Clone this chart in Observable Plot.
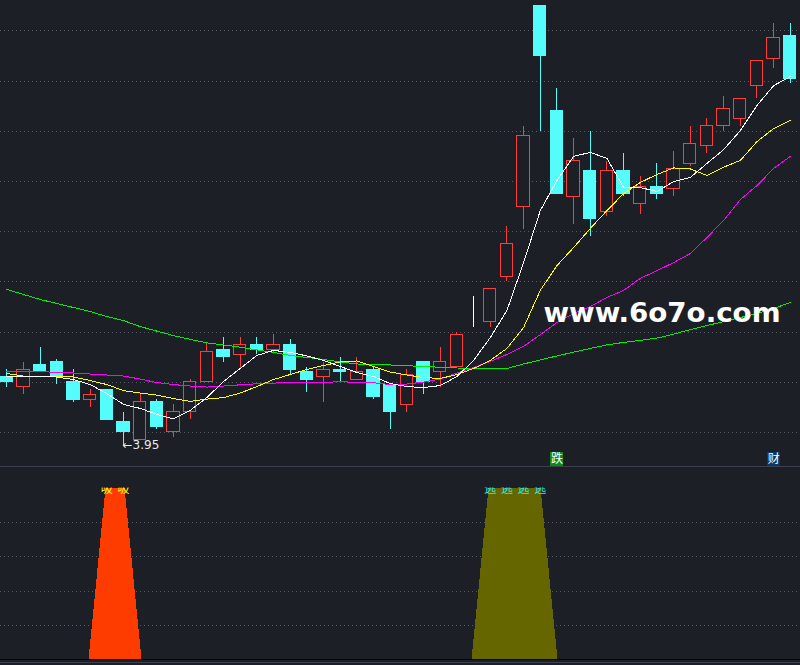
<!DOCTYPE html>
<html>
<head>
<meta charset="utf-8">
<script src="https://cdn.jsdelivr.net/npm/d3@7"></script>
<script src="https://cdn.jsdelivr.net/npm/@observablehq/plot@0.6"></script>
<style>
html,body{margin:0;padding:0;background:#1d1f27;overflow:hidden;}
#wrap{position:relative;width:800px;height:665px;background:#1d1f27;}
#wrap svg{display:block;}
.hline{position:absolute;left:0;width:800px;height:1px;}
</style>
</head>
<body>
<div id="wrap"></div>
<script>
// ---- K-line data (48 bars) ----
const open  = [4.22,4.18,4.27,4.28,4.20,4.13,4.17,4.04,3.97,4.12, 4.00,4.08,4.20,4.33,4.31,4.35,4.33,4.35,4.24,4.22, 4.25,4.21,4.25,4.19,4.11,4.28,4.24,4.26,4.44,4.44, 4.62,4.90,5.70,5.28,4.94,5.04,4.88,5.04,4.91,4.98, 4.97,5.07,5.14,5.22,5.25,5.38,5.49,5.58];
const high  = [4.25,4.28,4.34,4.29,4.25,4.17,4.17,4.08,4.15,4.13, 4.11,4.21,4.36,4.38,4.38,4.38,4.39,4.37,4.26,4.28, 4.30,4.30,4.26,4.19,4.25,4.28,4.34,4.40,4.54,4.57, 4.82,5.22,5.70,5.37,5.17,5.20,5.08,5.11,5.02,5.07, 5.12,5.22,5.25,5.34,5.33,5.48,5.63,5.63];
const low   = [4.18,4.15,4.24,4.19,4.12,4.10,4.05,3.95,3.97,4.01, 3.98,4.05,4.20,4.28,4.25,4.31,4.32,4.23,4.16,4.12, 4.20,4.21,4.13,4.01,4.08,4.15,4.18,4.26,4.42,4.42, 4.60,4.81,5.20,4.95,4.83,4.78,4.86,4.94,4.87,4.93, 4.94,5.06,5.11,5.20,5.22,5.33,5.45,5.39];
const close = [4.20,4.25,4.24,4.22,4.13,4.15,4.05,4.00,4.12,4.02, 4.08,4.20,4.32,4.30,4.35,4.33,4.35,4.25,4.21,4.25, 4.24,4.24,4.14,4.08,4.23,4.20,4.28,4.39,4.44,4.57, 4.75,5.18,5.50,4.95,5.08,4.85,5.04,4.95,4.98,4.95, 5.05,5.15,5.22,5.29,5.33,5.48,5.57,5.41];

// ---- moving averages ----
const ma5  = [4.223,4.223,4.223,4.221,4.211,4.191,4.155,4.112,4.096,4.072, 4.054,4.088,4.139,4.203,4.255,4.307,4.327,4.319,4.305,4.287, 4.263,4.239,4.223,4.195,4.183,4.179,4.187,4.223,4.287,4.378, 4.486,4.677,4.884,5.004,5.100,5.116,5.092,4.976,4.976,4.960, 5.000,5.016,5.072,5.127,5.203,5.303,5.382,5.418];
const ma10 = [4.235,4.225,4.223,4.223,4.221,4.207,4.191,4.167,4.157,4.149, 4.135,4.124,4.133,4.139,4.157,4.183,4.211,4.231,4.251,4.267, 4.281,4.285,4.263,4.241,4.229,4.219,4.215,4.231,4.255,4.287, 4.335,4.418,4.566,4.665,4.737,4.813,4.884,4.952,4.996,5.028, 5.054,5.050,5.024,5.057,5.084,5.159,5.211,5.243];
const ma20 = [4.243,4.243,4.243,4.239,4.237,4.233,4.229,4.225,4.213,4.199, 4.191,4.185,4.181,4.185,4.190,4.194,4.197,4.198,4.199,4.200, 4.202,4.200,4.198,4.191,4.193,4.201,4.213,4.237,4.259,4.283, 4.311,4.343,4.390,4.438,4.474,4.502,4.538,4.566,4.614,4.645, 4.677,4.713,4.777,4.845,4.928,4.984,5.052,5.100];
const ma60 = [4.570,4.550,4.530,4.514,4.498,4.482,4.462,4.446,4.422,4.404, 4.386,4.371,4.357,4.349,4.340,4.329,4.319,4.307,4.299,4.291, 4.281,4.273,4.270,4.269,4.266,4.263,4.260,4.257,4.255,4.255, 4.255,4.273,4.289,4.305,4.320,4.335,4.349,4.359,4.367,4.376, 4.392,4.410,4.426,4.442,4.458,4.474,4.494,4.518];

// ---- grid / ticks ----
const priceGrid = [4.0,4.2,4.4,4.6,4.8,5.0,5.2,5.4,5.6];
const subGrid = [20,40,60,80];

// ---- annotations / signals ----
const lowBar = 7, lowLabel = "←3.95";
const tagBars = [33,46], tagTexts = ["跌","财"], tagColors = ["#0b8a12","#0a3868"];
const buyBars = [6,7], sellBars = [29,30,31,32];
const buyText = "吸", sellText = "逃";
const signalValue = 100;
const watermark = "www.6o7o.com";

const BG = "#1d1f27", UP = "#ff3b3b", DOWN = "#54fcfc", FLAT = "#ffffff";
const GRID = "#555a66";
const xDomain = [-0.378, 47.61];

const candles = open.map((o,i)=>({i,o,h:high[i],l:low[i],c:close[i]}));
const col = d => d.c > d.o ? UP : d.c < d.o ? DOWN : FLAT;
const HW = 0.37;

const upperChart = Plot.plot({
  width: 800, height: 466, margin: 0,
  style: {background: "transparent"},
  x: {type: "linear", domain: xDomain, axis: null},
  y: {domain: [3.8645, 5.7211], axis: null},
  marks: [
    Plot.ruleY(priceGrid, {stroke: GRID, strokeDasharray: "1,3"}),
    Plot.ruleX(candles, {x: "i", y1: "l", y2: "h", stroke: col}),
    Plot.rect(candles, {x1: d=>d.i-HW, x2: d=>d.i+HW, y1: "o", y2: "c",
      fill: d => d.c < d.o ? DOWN : BG, stroke: col}),
    Plot.line(ma60, {x: (d,i)=>i, y: d=>d, stroke: "#00f000", strokeWidth: 1}),
    Plot.line(ma20, {x: (d,i)=>i, y: d=>d, stroke: "#ff00ff", strokeWidth: 1}),
    Plot.line(ma10, {x: (d,i)=>i, y: d=>d, stroke: "#ffff00", strokeWidth: 1}),
    Plot.line(ma5,  {x: (d,i)=>i, y: d=>d, stroke: "#ffffff", strokeWidth: 1}),
    Plot.text([lowLabel], {x: lowBar, y: low[lowBar], text: d=>d, textAnchor: "start",
      lineAnchor: "middle", fill: "#e8eaf0", fontSize: 12, fontFamily: "DejaVu Sans", dx: -1}),
    Plot.dot(tagBars, {x: d=>d, frameAnchor: "bottom", dy: -7.5, symbol: "square", r: 7.4,
      fill: (d,i)=>tagColors[i], stroke: null}),
    Plot.text(tagBars, {x: d=>d, frameAnchor: "bottom", dy: -7.5, text: (d,i)=>tagTexts[i],
      fill: "#ffffff", fontSize: 12, fontFamily: "Noto Sans CJK SC", lineAnchor: "middle"}),
    Plot.text([watermark], {frameAnchor: "top-left", dx: 543, dy: 321, text: d=>d,
      textAnchor: "start", lineAnchor: "bottom", fill: "#ffffff", fontSize: 27,
      fontWeight: "bold", fontFamily: "DejaVu Sans"})
  ]
});

// staircase trapezoid spanning each run of consecutive signal bars
const STEPS = 17;
const steps = bars => {
  const a = d3.min(bars), b = d3.max(bars);
  return d3.range(STEPS).map(k => ({
    a, b, w: 1.05 - 0.95 * k / (STEPS - 1), top: signalValue * (k + 1) / STEPS }));
};

const TXT_DY = 4;
const lowerChart = Plot.plot({
  width: 800, height: 199, marginTop: 22, marginBottom: 6, marginLeft: 0, marginRight: 0,
  style: {background: "transparent"},
  x: {type: "linear", domain: xDomain, axis: null},
  y: {domain: [0, 100], axis: null},
  marks: [
    Plot.ruleY(subGrid, {stroke: GRID, strokeDasharray: "1,3"}),
    Plot.rect(steps(buyBars), {x1: d=>d.a-d.w, x2: d=>d.b+d.w, y1: 0, y2: "top", fill: "#ff3c00"}),
    Plot.rect(steps(sellBars), {x1: d=>d.a-d.w, x2: d=>d.b+d.w, y1: 0, y2: "top", fill: "#666600"}),
    Plot.text(buyBars, {x: d=>d, y: signalValue, text: ()=>buyText, fill: "#ffff00",
      lineAnchor: "bottom", dy: TXT_DY, fontSize: 12, fontFamily: "Noto Sans CJK SC"}),
    Plot.text(sellBars, {x: d=>d, y: signalValue, text: ()=>sellText, fill: "#20f0f0",
      lineAnchor: "bottom", dy: TXT_DY, fontSize: 12, fontFamily: "Noto Sans CJK SC"})
  ]
});

for (const s of [upperChart, lowerChart]) s.setAttribute("shape-rendering", "crispEdges");
d3.select(upperChart).selectAll("text").filter(function(){ return this.textContent === watermark; })
  .attr("textLength", 237).attr("lengthAdjust", "spacingAndGlyphs");

// clip the signal texts at the top of the indicator frame (the text group is translated by dy)
const lsel = d3.select(lowerChart);
lsel.insert("defs", ":first-child").append("clipPath").attr("id", "subclip")
  .append("rect").attr("x", 0).attr("y", 21 - TXT_DY).attr("width", 800).attr("height", 172);
lsel.selectAll('g[aria-label="text"]').attr("clip-path", "url(#subclip)");

const wrap = document.getElementById("wrap");
wrap.appendChild(upperChart);
wrap.appendChild(lowerChart);
const hline = (y, c) => { const d = document.createElement("div"); d.className = "hline";
  d.style.top = y + "px"; d.style.background = c; wrap.appendChild(d); };
hline(466, "#3a404e");
hline(659, "#05060a");
hline(662, "#3a404e");
</script>
</body>
</html>
